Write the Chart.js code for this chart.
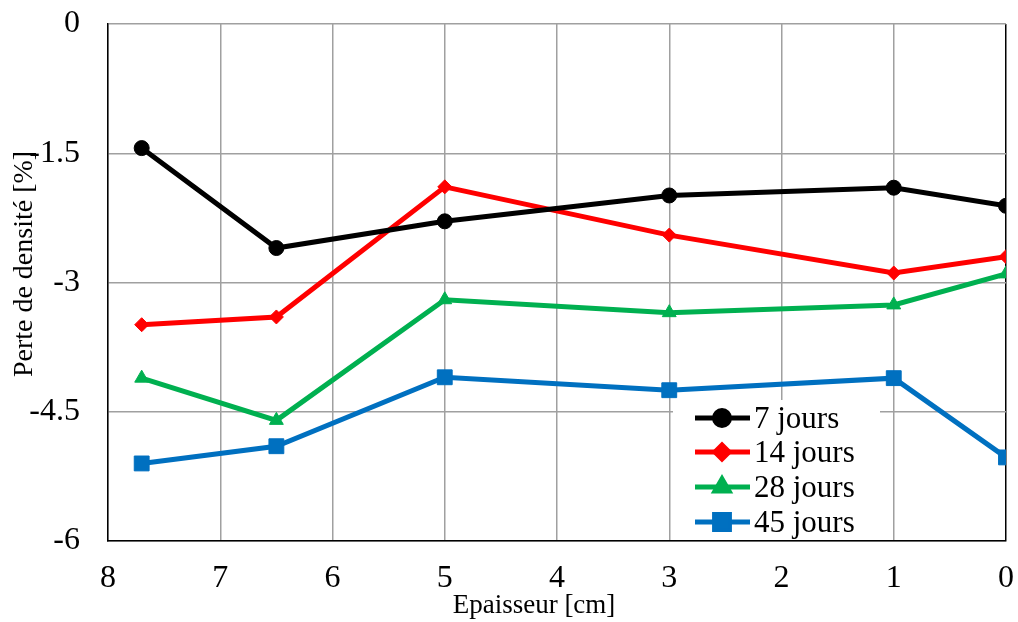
<!DOCTYPE html>
<html>
<head>
<meta charset="utf-8">
<script src="https://cdn.jsdelivr.net/npm/chart.js@4/dist/chart.umd.min.js"></script>
<style>
  html, body { margin: 0; padding: 0; background: #fff; }
  #wrap { width: 1018px; height: 622px; position: relative; }
</style>
</head>
<body>
<div id="wrap"><canvas id="c"></canvas></div>
<script>
// épaisseur [cm] et pertes de densité [%]
const thickness = [7.7, 6.5, 5, 3, 1, 0];
const days7 = [-1.44, -2.60, -2.29, -1.99, -1.90, -2.11];
const days14 = [-3.49, -3.40, -1.89, -2.45, -2.89, -2.70];
const days28 = [-4.11, -4.60, -3.20, -3.35, -3.26, -2.90];
const days45 = [-5.10, -4.90, -4.10, -4.25, -4.11, -5.03];

const seriesNames = ["7 jours", "14 jours", "28 jours", "45 jours"];
const xTicks = [0, 1, 2, 3, 4, 5, 6, 7, 8];
const yTicks = [-6, -4.5, -3, -1.5, 0];

const FONT = "'Liberation Serif', 'Times New Roman', serif";

function pts(vals) {
  return thickness.map((x, i) => ({ x: x, y: vals[i] }));
}

function ds(label, vals, color, style, radius) {
  return {
    label: label,
    data: pts(vals),
    borderColor: color,
    backgroundColor: color,
    borderWidth: 5,
    pointStyle: style,
    pointRadius: radius,
    pointBorderWidth: 1,
    pointBackgroundColor: color,
    pointBorderColor: color,
    tension: 0,
  };
}

const titlesAndLegend = {
  id: "titlesAndLegend",
  afterDatasetsDraw(chart) {
    const ctx = chart.ctx;
    ctx.save();

    // legend box
    ctx.fillStyle = "#fff";
    ctx.fillRect(673, 400, 207, 140);
    const rows = [428, 462, 497, 532];
    chart.data.datasets.forEach((d, i) => {
      const y = rows[i] - 10;
      ctx.strokeStyle = d.borderColor;
      ctx.lineWidth = 5;
      ctx.beginPath();
      ctx.moveTo(695, y);
      ctx.lineTo(750, y);
      ctx.stroke();
      ctx.fillStyle = d.borderColor;
      Chart.helpers.drawPoint(ctx, {
        pointStyle: d.pointStyle,
        radius: d.pointRadius,
        borderWidth: 1,
        rotation: 0,
      }, 722, y);
      ctx.fill();
      ctx.lineWidth = 1;
      ctx.stroke();
      ctx.fillStyle = "#000";
      ctx.font = "31px " + FONT;
      ctx.textAlign = "left";
      ctx.textBaseline = "alphabetic";
      ctx.fillText(d.label, 754, rows[i]);
    });

    // axis titles
    ctx.fillStyle = "#000";
    ctx.font = "27px " + FONT;
    ctx.textAlign = "center";
    ctx.textBaseline = "alphabetic";
    ctx.fillText("Epaisseur [cm]", 534, 613);

    ctx.font = "28px " + FONT;
    ctx.translate(32, 264);
    ctx.rotate(-Math.PI / 2);
    ctx.fillText("Perte de densité [%]", 0, 0);
    ctx.restore();
  },
};

new Chart(document.getElementById("c"), {
  type: "line",
  data: {
    datasets: [
      ds(seriesNames[0], days7, "#000000", "circle", 7.5),
      ds(seriesNames[1], days14, "#ff0000", "rectRot", 7),
      ds(seriesNames[2], days28, "#00b050", "triangle", 8),
      ds(seriesNames[3], days45, "#0070c0", "rect", 10.5),
    ],
  },
  options: {
    responsive: true,
    maintainAspectRatio: false,
    animation: false,
    layout: { padding: { top: 24, right: 12, left: 0, bottom: 0 } },
    plugins: {
      legend: { display: false },
      tooltip: { enabled: false },
    },
    scales: {
      x: {
        type: "linear",
        reverse: true,
        min: 0,
        max: 8,
        afterBuildTicks: (s) => { s.ticks = xTicks.map((v) => ({ value: v })); },
        afterFit: (s) => { s.height = 81; s.paddingLeft = 0; s.paddingRight = 0; },
        ticks: {
          color: "#000",
          font: { family: FONT, size: 32 },
          padding: 18,
          maxRotation: 0,
        },
        grid: {
          drawTicks: false,
          lineWidth: 1.5,
          color: (c) => (c.tick && c.tick.value === 0 ? "#000" : "#a0a0a0"),
        },
        border: { color: "#000", width: 1.5 },
      },
      y: {
        min: -6,
        max: 0,
        afterBuildTicks: (s) => { s.ticks = yTicks.map((v) => ({ value: v })); },
        afterFit: (s) => { s.width = 108; s.paddingTop = 0; s.paddingBottom = 0; },
        ticks: {
          color: "#000",
          font: { family: FONT, size: 32 },
          padding: 28,
        },
        grid: {
          drawTicks: false,
          lineWidth: 1.5,
          color: "#a0a0a0",
        },
        border: { color: "#000", width: 1.5 },
      },
    },
  },
  plugins: [titlesAndLegend],
});
</script>
</body>
</html>
